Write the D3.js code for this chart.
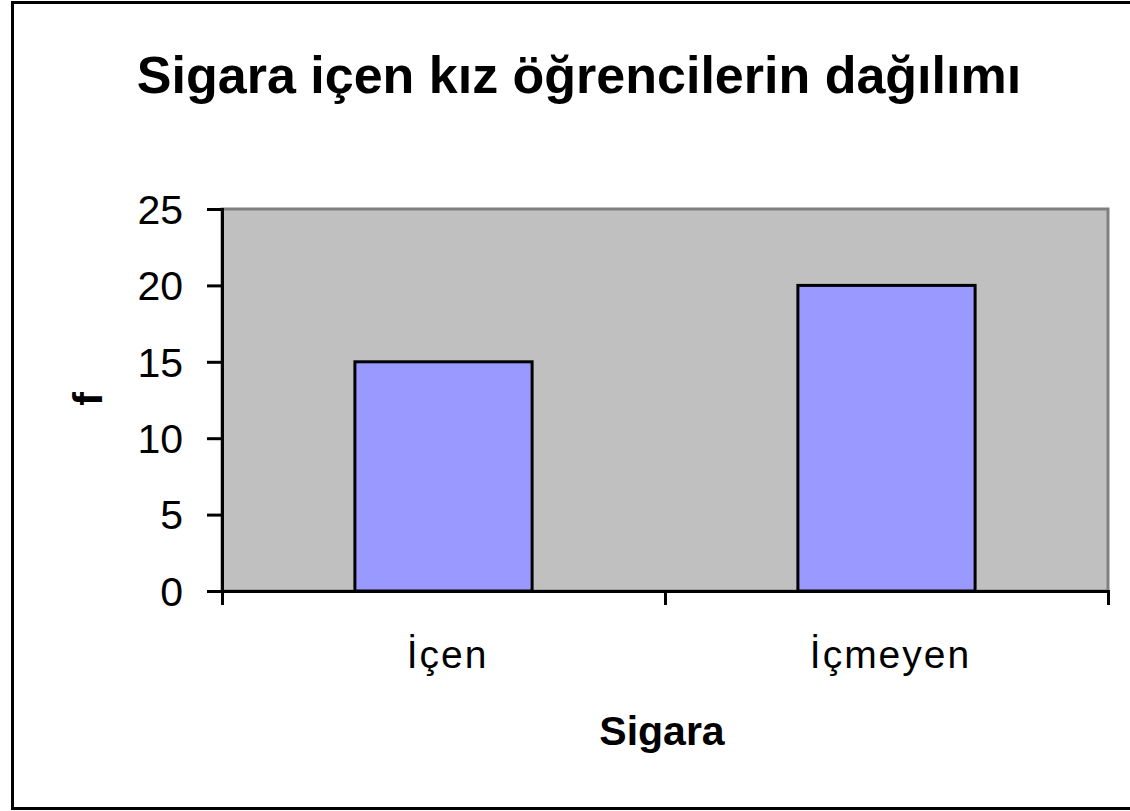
<!DOCTYPE html>
<html>
<head>
<meta charset="utf-8">
<script src="https://cdn.jsdelivr.net/npm/d3@7"></script>
<style>
  body { margin: 0; background: #fff; }
  svg { display: block; }
</style>
</head>
<body>
<div id="chart"></div>
<script>
// data
var categories = ['İçen', 'İçmeyen']
var values = [15, 20]
var yTicks = [0, 5, 10, 15, 20, 25]

var W = 1130
var H = 811

// plot area
var margin = { top: 209, left: 222, right: 22, bottom: 220 }
var width = W - margin.left - margin.right
var height = H - margin.top - margin.bottom

var svg = d3.select('#chart')
  .append('svg')
  .attr('width', W)
  .attr('height', H)
  .attr('font-family', 'Arial, "Liberation Sans", sans-serif')

// outer frame (right side is cut off in the picture)
svg.append('rect')
  .attr('x', 12.5)
  .attr('y', 2.5)
  .attr('width', W)
  .attr('height', 806)
  .attr('fill', 'none')
  .attr('stroke', '#000')
  .attr('stroke-width', 3)

// title
svg.append('text')
  .attr('x', 579)
  .attr('y', 93)
  .attr('text-anchor', 'middle')
  .attr('font-size', 52)
  .attr('font-weight', 'bold')
  .text('Sigara içen kız öğrencilerin dağılımı')

var g = svg.append('g')
  .attr('transform', 'translate(' + margin.left + ',' + margin.top + ')')

var x = d3.scaleBand()
  .domain(categories)
  .range([0, width])
  .paddingInner(0.6)
  .paddingOuter(0.3)

var y = d3.scaleLinear()
  .domain([0, 25])
  .range([height, 0])

// gray plot background
g.append('rect')
  .attr('x', 0)
  .attr('y', 0)
  .attr('width', width)
  .attr('height', height)
  .attr('fill', '#c0c0c0')
  .attr('stroke', '#808080')
  .attr('stroke-width', 3)

// bars
g.selectAll('.bar')
  .data(values)
  .enter()
  .append('rect')
  .attr('class', 'bar')
  .attr('x', (d, i) => x(categories[i]))
  .attr('y', d => y(d))
  .attr('width', x.bandwidth())
  .attr('height', d => height - y(d))
  .attr('fill', '#9999ff')
  .attr('stroke', '#000')
  .attr('stroke-width', 3)

// y axis
var yAxis = d3.axisLeft(y).tickValues(yTicks).tickSize(15).tickPadding(24)
var yg = g.append('g').call(yAxis)
yg.select('.domain').attr('stroke-width', 3)
yg.selectAll('.tick line').attr('stroke-width', 3)
yg.selectAll('.tick text')
  .attr('font-size', 41)
  .attr('font-family', 'Arial, "Liberation Sans", sans-serif')
  .attr('dy', '0.35em')

// x axis: ticks at band edges
var xLine = d3.scaleLinear().domain([0, categories.length]).range([0, width])
var xAxis = d3.axisBottom(xLine).ticks(categories.length).tickSize(14).tickFormat('')
var xg = g.append('g')
  .attr('transform', 'translate(0,' + height + ')')
  .call(xAxis)
xg.select('.domain').attr('stroke-width', 3)
xg.selectAll('.tick line').attr('stroke-width', 3)

// category labels
g.selectAll('.cat')
  .data(categories)
  .enter()
  .append('text')
  .attr('class', 'cat')
  .attr('x', d => x(d) + x.bandwidth() / 2)
  .attr('dx', 4)
  .attr('y', height + 77)
  .attr('text-anchor', 'middle')
  .attr('font-size', 39)
  .attr('letter-spacing', 2)
  .text(d => d)

// axis titles
svg.append('text')
  .attr('x', 662)
  .attr('y', 745)
  .attr('text-anchor', 'middle')
  .attr('font-size', 41)
  .attr('font-weight', 'bold')
  .text('Sigara')

svg.append('text')
  .attr('transform', 'translate(102,399) rotate(-90)')
  .attr('text-anchor', 'middle')
  .attr('font-size', 41)
  .attr('font-weight', 'bold')
  .text('f')
</script>
</body>
</html>
